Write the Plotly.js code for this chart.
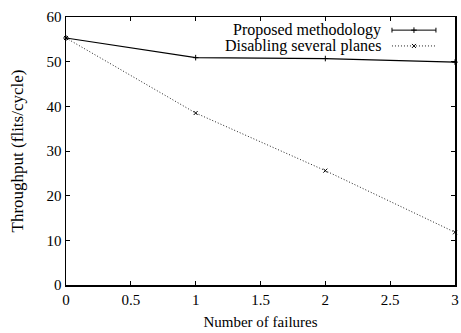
<!DOCTYPE html>
<html><head><meta charset="utf-8">
<script src="https://cdn.plot.ly/plotly-3.0.1.min.js"></script>
<style>body{margin:0;padding:0;background:#fff}#c{width:461px;height:333px}</style>
</head><body><div id="c"></div>
<script>
const failures = [0, 1, 2, 3];
const proposed = [55.3, 50.9, 50.7, 49.9];
const disabling = [55.3, 38.5, 25.6, 11.8];
const seriesNames = ["Proposed methodology", "Disabling several planes"];
const xTicks = [0, 0.5, 1, 1.5, 2, 2.5, 3];
const xTickText = ["0", "0.5", "1", "1.5", "2", "2.5", "3"];
const yTicks = [0, 10, 20, 30, 40, 50, 60];

const fam = "'Liberation Serif', 'Times New Roman', serif";
const tickFont = {family: fam, size: 15, color: "#000"};
const legFont = {family: fam, size: 16, color: "#000"};

const plusMarker = {symbol: "cross-thin", size: 4, color: "#000", line: {color: "#000", width: 1}};
const xMarker = {symbol: "x-thin", size: 4, color: "#000", line: {color: "#000", width: 1}};
const dotLine = {color: "#222", width: 1, dash: "1px,2px"};

const traces = [
  {x: failures, y: proposed, name: seriesNames[0], mode: "lines+markers", cliponaxis: false,
   line: {color: "#000", width: 1.2}, marker: plusMarker},
  {x: failures, y: disabling, name: seriesNames[1], mode: "lines+markers", cliponaxis: false,
   line: dotLine, marker: xMarker}
];

const axisCommon = {showgrid: false, zeroline: false, showline: true, linecolor: "#000", linewidth: 1.5,
  mirror: "ticks", ticks: "inside", ticklen: 4, tickwidth: 1, tickcolor: "#000", tickfont: tickFont};

const layout = {
  width: 461, height: 333,
  margin: {l: 66, r: 6, t: 17, b: 48},
  paper_bgcolor: "#fff", plot_bgcolor: "#fff",
  font: tickFont, showlegend: false,
  xaxis: Object.assign({}, axisCommon, {range: [0, 3], tickvals: xTicks, ticktext: xTickText,
    title: {text: "Number of failures", font: {family: fam, size: 15, color: "#000"}, standoff: 10}}),
  yaxis: Object.assign({}, axisCommon, {range: [0, 60], tickvals: yTicks,
    title: {text: "Throughput (flits/cycle)", font: {family: fam, size: 17, color: "#000"}, standoff: 18}}),
  annotations: [
    {xref: "paper", yref: "paper", x: 0.816, y: 0.951, xanchor: "right", yanchor: "middle", text: seriesNames[0], showarrow: false, font: legFont},
    {xref: "paper", yref: "paper", x: 0.816, y: 0.892, xanchor: "right", yanchor: "middle", text: seriesNames[1], showarrow: false, font: legFont}
  ],
  shapes: [
    {type: "line", xref: "paper", yref: "paper", x0: 0.838, x1: 0.951, y0: 0.951, y1: 0.951, line: {color: "#000", width: 1}},
    {type: "line", xref: "paper", yref: "paper", x0: 0.838, x1: 0.838, y0: 0.942, y1: 0.96, line: {color: "#000", width: 1}},
    {type: "line", xref: "paper", yref: "paper", x0: 0.951, x1: 0.951, y0: 0.942, y1: 0.96, line: {color: "#000", width: 1}},
    {type: "line", xref: "paper", yref: "paper", x0: 0.838, x1: 0.951, y0: 0.892, y1: 0.892, line: dotLine}
  ]
};

traces.push({x: [0.8945], y: [0.951], xaxis: "x2", yaxis: "y2", mode: "markers", hoverinfo: "skip", marker: plusMarker});
traces.push({x: [0.8945], y: [0.892], xaxis: "x2", yaxis: "y2", mode: "markers", hoverinfo: "skip", marker: xMarker});
layout.xaxis2 = {overlaying: "x", range: [0, 1], visible: false};
layout.yaxis2 = {overlaying: "y", range: [0, 1], visible: false};

Plotly.newPlot("c", traces, layout, {displayModeBar: false, staticPlot: true});
</script></body></html>
